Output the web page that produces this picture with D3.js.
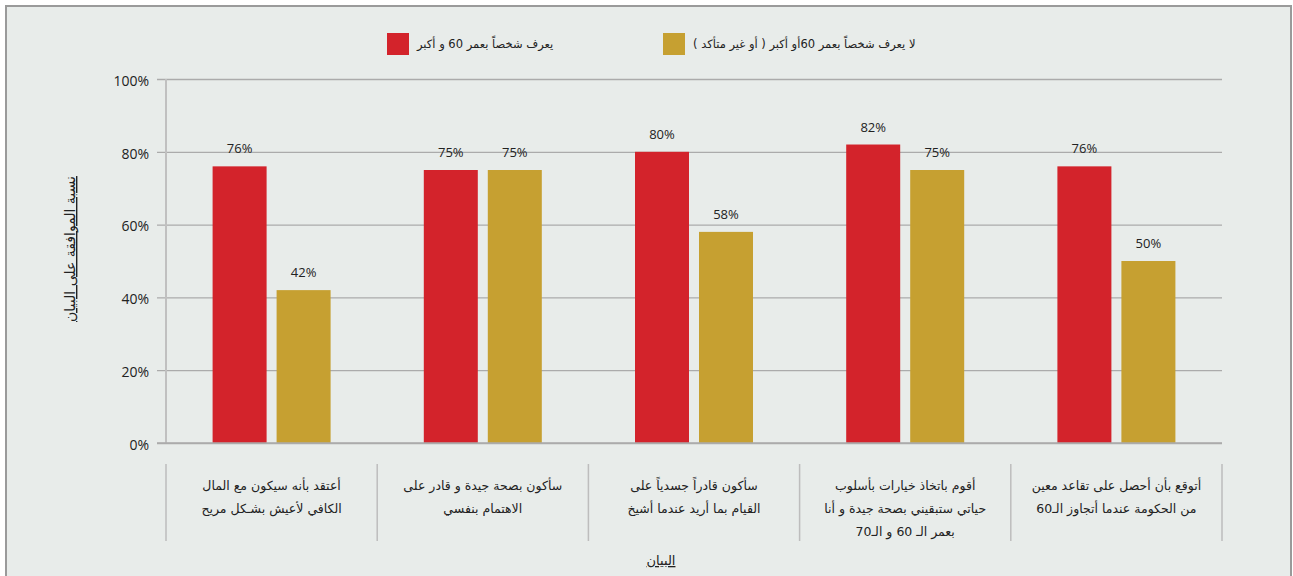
<!DOCTYPE html>
<html lang="ar">
<head>
<meta charset="utf-8">
<script src="https://cdn.jsdelivr.net/npm/d3@7"></script>
<style>
  html, body { margin: 0; padding: 0; background: #ffffff; }
  svg { display: block; }
  .num { font-family: "Open Sans", "Liberation Sans", sans-serif; fill: #222; }
  .ar { font-family: "DejaVu Sans", "Noto Sans", sans-serif; fill: #222; }
</style>
</head>
<body>
<svg id="chart" width="1293" height="576"></svg>
<script>
// Statements shown along the x axis (one array entry per wrapped line)
const categories = [
  ["أعتقد بأنه سيكون مع المال", "الكافي لأعيش بشـكل مريح"],
  ["سأكون بصحة جيدة  و قادر على", "الاهتمام بنفسي"],
  ["سأكون قادراً جسدياً على", "القيام بما أريد عندما أشيخ"],
  ["أقوم باتخاذ خيارات بأسلوب", "حياتي ستبقيني بصحة جيدة و أنا", "بعمر الـ 60 و الـ70"],
  ["أتوقع بأن أحصل على تقاعد معين", "من الحكومة عندما أتجاوز الـ60"]
];

// Series names (legend) and agreement percentages
const seriesNames = [
  "يعرف شخصاً بعمر 60 و أكبر",
  "لا يعرف شخصاً بعمر 60أو أكبر ( أو غير متأكد )"
];
const knowsOlder = [76, 75, 80, 82, 76];
const doesNotKnow = [42, 75, 58, 75, 50];

const yTicks = [0, 20, 40, 60, 80, 100];
const yTitle = "نسبة الموافقة على البيان";
const xTitle = "البيان";

const colors = ["#d3232b", "#c6a031"];

const svg = d3.select("#chart");
const W = 1293, H = 576;

// Panel background and frame
svg.append("rect")
  .attr("x", 6).attr("y", 6).attr("width", W - 8).attr("height", H + 10)
  .attr("fill", "#e8ecea").attr("stroke", "#9a9a9a").attr("stroke-width", 2);

const plotLeft = 166, plotRight = 1222, plotTop = 79, plotBottom = 443;

const y = d3.scaleLinear().domain([0, 100]).range([plotBottom, plotTop]);
const catIdx = d3.range(categories.length);
const x0 = d3.scaleBand().domain(catIdx).range([plotLeft, plotRight]);
const x1 = d3.scaleBand().domain([0, 1]).range([-59, 59]).paddingInner(10 / 64);

// Gridlines + tick labels, drawn from the right edge leftwards
const yAxis = d3.axisLeft(y)
  .tickValues(yTicks)
  .tickSize(plotRight - 157)
  .tickPadding(8)
  .tickFormat(d => d + "%");

const gy = svg.append("g")
  .attr("transform", `translate(${plotRight},0)`)
  .call(yAxis);
gy.select(".domain").remove();
gy.selectAll(".tick line").attr("stroke", "#ababab").attr("stroke-width", 1.3);
gy.selectAll(".tick text")
  .attr("class", "num")
  .attr("font-size", 14)
  .attr("dy", "0.45em")
  .attr("fill", "#222");

// Vertical axis line
svg.append("line")
  .attr("x1", plotLeft).attr("x2", plotLeft)
  .attr("y1", plotTop).attr("y2", plotBottom)
  .attr("stroke", "#c0c0c0").attr("stroke-width", 2);

// Bars
const series = [knowsOlder, doesNotKnow];
const groups = svg.append("g").selectAll("g")
  .data(catIdx)
  .join("g")
  .attr("transform", i => `translate(${x0(i) + x0.bandwidth() / 2},0)`);

groups.selectAll("rect")
  .data(i => series.map((s, k) => ({ k, v: s[i] })))
  .join("rect")
  .attr("x", d => x1(d.k))
  .attr("width", x1.bandwidth())
  .attr("y", d => y(d.v))
  .attr("height", d => y(0) - y(d.v))
  .attr("fill", d => colors[d.k]);

// Value labels above each bar
groups.selectAll("text.val")
  .data(i => series.map((s, k) => ({ k, v: s[i] })))
  .join("text")
  .attr("class", "val num")
  .attr("x", d => x1(d.k) + x1.bandwidth() / 2)
  .attr("y", d => y(d.v) - 13)
  .attr("text-anchor", "middle")
  .attr("font-size", 13)
  .text(d => d.v + "%");

// Baseline redrawn over the bars
svg.append("line")
  .attr("x1", 157).attr("x2", plotRight)
  .attr("y1", y(0)).attr("y2", y(0))
  .attr("stroke", "#ababab").attr("stroke-width", 1.3);

// Category cell separators
const bounds = catIdx.map(i => x0(i)).concat([x0(catIdx[catIdx.length - 1]) + x0.bandwidth()]);
svg.append("g").selectAll("line")
  .data(bounds)
  .join("line")
  .attr("x1", d => d).attr("x2", d => d)
  .attr("y1", 464).attr("y2", 541)
  .attr("stroke", "#bdbdbd").attr("stroke-width", 1.5);

// Category labels
const catText = svg.append("g").selectAll("text")
  .data(catIdx)
  .join("text")
  .attr("class", "ar")
  .attr("font-size", 12.5)
  .attr("text-anchor", "middle")
  .attr("direction", "rtl");
catText.each(function (i) {
  const t = d3.select(this);
  categories[i].forEach((line, j) => {
    t.append("tspan")
      .attr("x", x0(i) + x0.bandwidth() / 2)
      .attr("y", 490 + j * 23)
      .text(line);
  });
});

// Axis titles (underlined)
svg.append("text")
  .attr("class", "ar")
  .attr("font-size", 14)
  .attr("text-anchor", "middle")
  .attr("text-decoration", "underline")
  .attr("transform", "translate(75,249) rotate(-90)")
  .text(yTitle);

svg.append("text")
  .attr("class", "ar")
  .attr("font-size", 13)
  .attr("text-anchor", "middle")
  .attr("text-decoration", "underline")
  .attr("x", 661).attr("y", 565)
  .text(xTitle);

// Legend
const legendX = [387, 663];
const legend = svg.append("g").selectAll("g")
  .data([0, 1])
  .join("g")
  .attr("transform", k => `translate(${legendX[k]},33)`);
legend.append("rect")
  .attr("width", 22).attr("height", 22)
  .attr("fill", k => colors[k]);
legend.append("text")
  .attr("class", "ar")
  .attr("font-size", 11.5)
  .attr("x", 30).attr("y", 15)
  .text(k => seriesNames[k]);
</script>
</body>
</html>
